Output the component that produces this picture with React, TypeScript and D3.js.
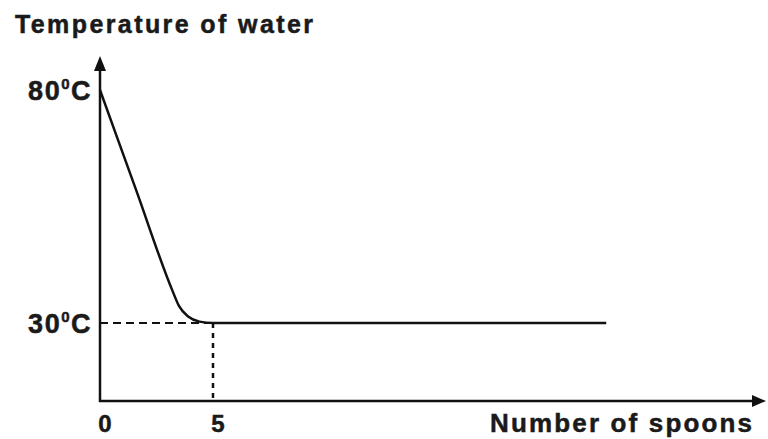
import * as d3 from "d3";

// spoons of sugar vs. temperature of water
const spoons = [0, 1.6, 3.2, 3.5, 3.9, 4.4, 5, 10, 22.4];
const temperature = [80, 58.5, 37, 33.6, 31.4, 30.3, 30, 30, 30];
const yTicks = [80, 30];
const xTicks = [0, 5];

const W = 768;
const H = 439;
const FONT = "'Liberation Sans', Arial, sans-serif";

export default function App() {
  const x = d3.scaleLinear().domain([0, 5]).range([100, 213]);
  const y = d3.scaleLinear().domain([30, 80]).range([323, 90]);

  const axisY = 401;
  const topY = 56;
  const rightX = 766;

  const points = spoons.map((s, i) => [s, temperature[i]] as [number, number]);
  const line = d3
    .line<[number, number]>()
    .x((d) => x(d[0]))
    .y((d) => y(d[1]))
    .curve(d3.curveMonotoneX);

  return (
    <svg
      width={W}
      height={H}
      style={{ position: "absolute", left: 0, top: 0, background: "#fff" }}
      fontFamily={FONT}
      fontWeight="bold"
    >
      <g stroke="#1a1a1a" strokeWidth={0.5}>
        <text x={15} y={33} fontSize={25} fill="#1a1a1a" textLength={298} lengthAdjust="spacing">
          Temperature of water
        </text>

        {yTicks.map((t) => (
          <text
            key={t}
            x={x(0) - 8}
            y={y(t) + 10}
            textAnchor="end"
            fontSize={27}
            letterSpacing={1.5}
            fill="#1a1a1a"
          >
            {t}
            <tspan fontSize={15} dy={-11}>
              0
            </tspan>
            <tspan dy={11}>C</tspan>
          </text>
        ))}

        {xTicks.map((t) => (
          <text key={t} x={x(t) + 5} y={432} textAnchor="middle" fontSize={24} fill="#1a1a1a">
            {t}
          </text>
        ))}

        <text x={490} y={432} fontSize={26} fill="#1a1a1a" textLength={262} lengthAdjust="spacing">
          Number of spoons
        </text>
      </g>

      {/* guides to 30°C at 5 spoons */}
      <line
        x1={x(0)}
        x2={x(5)}
        y1={y(30)}
        y2={y(30)}
        stroke="#111"
        strokeWidth={2}
        strokeDasharray="8,5"
      />
      <line
        x1={x(5)}
        x2={x(5)}
        y1={y(30)}
        y2={axisY}
        stroke="#111"
        strokeWidth={2.5}
        strokeDasharray="5,5"
      />

      {/* axes */}
      <line x1={x(0)} x2={x(0)} y1={axisY + 1} y2={topY + 10} stroke="#111" strokeWidth={2.5} />
      <path
        d={`M${x(0)},${topY} L${x(0) - 6},${topY + 15} L${x(0) + 6},${topY + 15} Z`}
        fill="#111"
      />
      <line x1={x(0) - 1} x2={rightX - 10} y1={axisY} y2={axisY} stroke="#111" strokeWidth={2.5} />
      <path
        d={`M${rightX},${axisY} L${rightX - 14},${axisY - 6} L${rightX - 14},${axisY + 6} Z`}
        fill="#111"
      />

      <path d={line(points) ?? ""} fill="none" stroke="#111" strokeWidth={2.5} />
    </svg>
  );
}
